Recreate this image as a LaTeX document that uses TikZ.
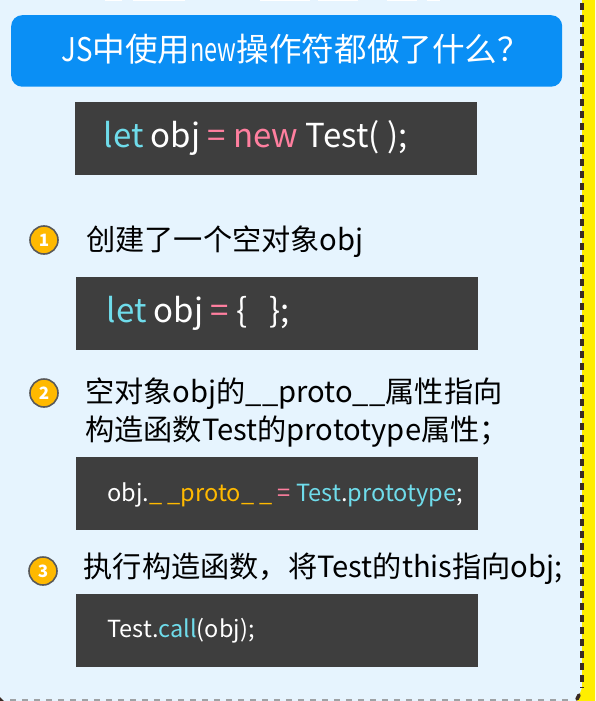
\documentclass[tikz,border=0pt]{standalone}
\usepackage{fontspec}
\setmainfont{Noto Sans CJK SC}
\newcommand{\narrowed}[2]{\scalebox{#1}[1]{#2}}
\definecolor{pagebg}{HTML}{E6F4FE}
\definecolor{titleblue}{HTML}{0A8FF5}
\definecolor{codebg}{HTML}{3E3E3E}
\definecolor{cyanc}{HTML}{6FDCEB}
\definecolor{pinkc}{HTML}{FF7F9F}
\definecolor{goldc}{HTML}{FFB900}
\definecolor{dashc}{HTML}{3A2A24}
\definecolor{ygl}{HTML}{FFEE00}
\tikzset{
  x=1pt,y=-1pt,
  codebox/.style={fill=codebg,draw=none,minimum height=73pt,inner sep=0pt,anchor=north west},
  codetext/.style={text=white,inner sep=0pt,anchor=base west},
  body/.style={text=black,inner sep=0pt,anchor=base west,font=\fontsize{29.2}{29.2}\selectfont},
  badge/.style={circle,fill=goldc,draw=black!65,line width=1.6pt,minimum size=28pt,inner sep=0pt,text=white,font=\fontsize{17}{17}\selectfont\bfseries},
  edgedash/.style={draw=dashc,line width=3.6pt,dash pattern=on 7pt off 5pt}
}
\begin{document}
\begin{tikzpicture}
\useasboundingbox (0,0) rectangle (595,701);
\fill[pagebg] (0,0) rectangle (595,701);
\foreach \a/\b in {105/122,133/185,260/310,318/358,387/417,427/440}
  \fill[white] (\a,0) rectangle (\b,1.5);
\fill[ygl] (582,0) -- (595,0) -- (595,701) -- (577,701) -- (582,688) -- cycle;
\draw[edgedash] (582,3) -- (582,688);
\draw[dashc,line width=3.6pt,line cap=round] (579,695) -- (577,699);
\draw[gray!70!pagebg,line width=2pt,dash pattern=on 6pt off 6pt] (10,700) -- (572,700);
\fill[dashc] (0,697) -- (4,701) -- (0,701) -- cycle;
\node[fill=titleblue,rounded corners=11pt,minimum width=551pt,minimum height=71.5pt,inner sep=0pt,anchor=north west] (title) at (11,15) {};
\node[text=white,inner sep=0pt,anchor=base west,font=\fontsize{32.6}{32.6}\selectfont] (titletext) at (61,62) {\narrowed{0.85}{JS}中使用\narrowed{0.72}{new}操作符都做了什么？};
\node[codebox,minimum width=402pt] (c0) at (75,102) {};
\node[codetext,font=\fontsize{33}{33}\selectfont] (c0t) at (103.5,147) {\textcolor{cyanc}{let} obj \textcolor{pinkc}{= new} Test( );};
\node[badge] (b1) at (44,240) {1};
\node[body] (t1) at (86,250) {创建了一个空对象obj};
\node[codebox,minimum width=402pt] (c1) at (76,277) {};
\node[codetext,font=\fontsize{33}{33}\selectfont] (c1t) at (106.5,322) {\textcolor{cyanc}{let} obj \textcolor{pinkc}{=} \{\ \ \ \};};
\node[badge] (b2) at (44,393) {2};
\node[body] (t2) at (85,402) {空对象obj的\_\_proto\_\_属性指向};
\node[body] (t2b) at (85,440) {构造函数Test的prototype属性；};
\node[codebox,minimum width=402pt] (c2) at (76,457) {};
\node[codetext,font=\fontsize{23.6}{23.6}\selectfont] (c2t) at (107,501) {obj.\textcolor{goldc}{\_ \_proto\_ \_} \textcolor{pinkc}{=} \textcolor{cyanc}{Test}.\textcolor{cyanc}{prototype};};
\node[badge] (b3) at (43,571) {3};
\node[body] (t3) at (83.5,577) {执行构造函数，将Test的this指向obj;};
\node[codebox,minimum width=402pt] (c3) at (76,594) {};
\node[codetext,font=\fontsize{23.5}{23.5}\selectfont] (c3t) at (107,637) {Test.\textcolor{cyanc}{call}(obj);};
\end{tikzpicture}
\end{document}
